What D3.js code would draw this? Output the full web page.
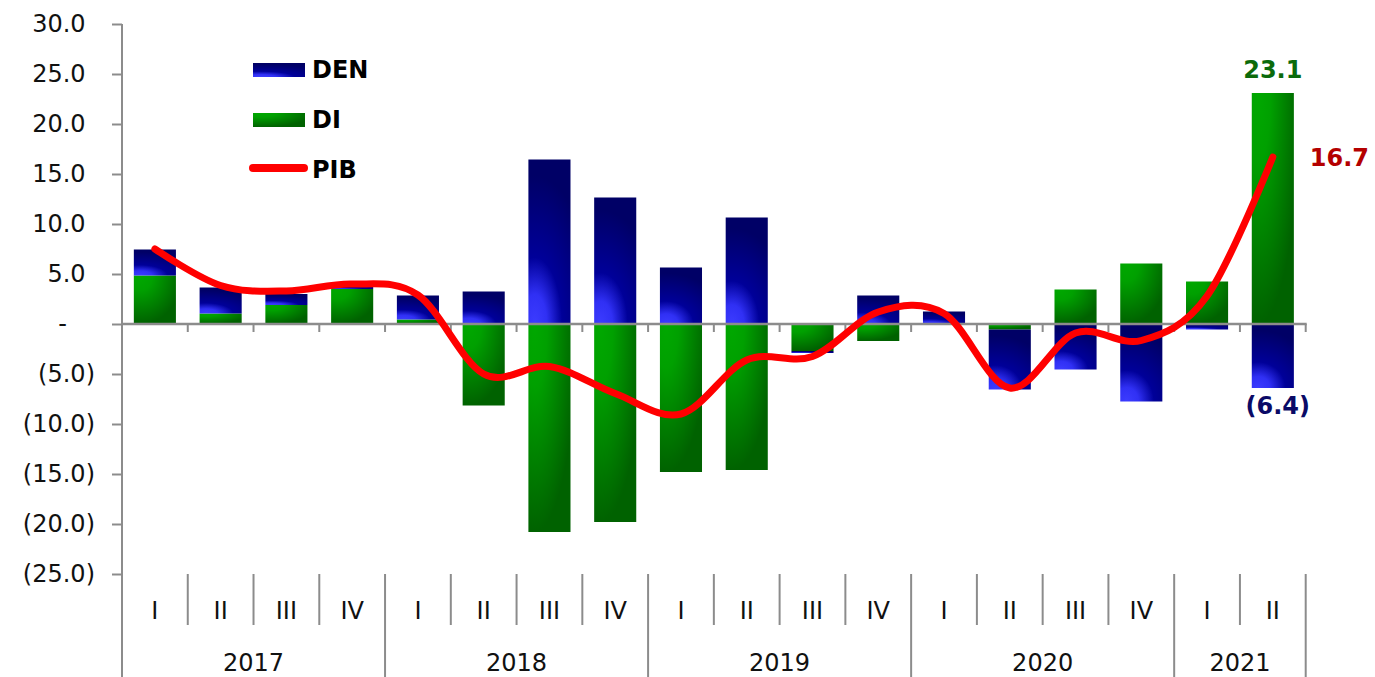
<!DOCTYPE html>
<html>
<head>
<meta charset="utf-8">
<script src="https://cdn.jsdelivr.net/npm/d3@7"></script>
<style>
  body { margin: 0; background: #fff; }
  svg { display: block; font-family: "DejaVu Sans", Verdana, sans-serif; }
</style>
</head>
<body>
<svg id="chart" width="1375" height="677"></svg>
<script>
// quarters, "year quarter"
var categories = ["2017 I", "2017 II", "2017 III", "2017 IV",
    "2018 I", "2018 II", "2018 III", "2018 IV",
    "2019 I", "2019 II", "2019 III", "2019 IV",
    "2020 I", "2020 II", "2020 III", "2020 IV",
    "2021 I", "2021 II"];
var den = [2.6, 2.6, 1.1, 0.3, 2.4, 3.25, 16.45, 12.65, 5.65, 10.65, -0.2, 2.85, 1.25, -6.0, -4.55, -7.75, -0.55, -6.4];
var di = [4.85, 1.05, 1.9, 3.5, 0.45, -8.15, -20.8, -19.8, -14.8, -14.6, -2.7, -1.7, 0.0, -0.55, 3.45, 6.05, 4.25, 23.1];
var pib = [7.5, 3.85, 3.3, 4.0, 2.9, -5.0, -4.25, -6.95, -9.0, -3.6, -3.25, 1.2, 1.05, -6.4, -0.9, -1.65, 2.8, 16.7];
var yTicks = [-25, -20, -15, -10, -5, 0, 5, 10, 15, 20, 25, 30];
var seriesNames = ["DEN", "DI", "PIB"];

var svg = d3.select("#chart");
var plotLeft = 122, plotRight = 1305.7, plotTop = 24, plotBottom = 574;

var x = d3.scaleBand().domain(categories).range([plotLeft, plotRight])
    .paddingInner(0.36).paddingOuter(0.18);
var y = d3.scaleLinear().domain([-25, 30]).range([plotBottom, plotTop]);
var step = x.step();
function x0(c) { return x(c) - step * 0.18; }  // left edge of the category slot

// gradients
var defs = svg.append("defs");
var gDen = defs.append("radialGradient").attr("id", "gDen")
    .attr("cx", 0.15).attr("cy", 1).attr("r", 0.9).attr("fx", 0.15).attr("fy", 1)
    .attr("gradientTransform", "translate(0.15,1) scale(1.6,1) translate(-0.15,-1)");
gDen.append("stop").attr("offset", 0).attr("stop-color", "#3c3cff");
gDen.append("stop").attr("offset", 0.2).attr("stop-color", "#3030f4");
gDen.append("stop").attr("offset", 0.45).attr("stop-color", "#000099");
gDen.append("stop").attr("offset", 1).attr("stop-color", "#000066");
var gDi = defs.append("radialGradient").attr("id", "gDi")
    .attr("cx", 0.15).attr("cy", 0).attr("r", 1).attr("fx", 0.15).attr("fy", 0);
gDi.append("stop").attr("offset", 0).attr("stop-color", "#00a800");
gDi.append("stop").attr("offset", 0.3).attr("stop-color", "#00a000");
gDi.append("stop").attr("offset", 1).attr("stop-color", "#006200");

// stacked bars (DI next to zero, DEN outside)
var rows = categories.map(function (c, i) { return { cat: c, DI: di[i], DEN: den[i] }; });
var stack = d3.stack().keys(["DI", "DEN"]).offset(d3.stackOffsetDiverging);
var layers = stack(rows);
var fills = { DI: "url(#gDi)", DEN: "url(#gDen)" };

svg.append("g").selectAll("g")
    .data(layers)
    .enter().append("g")
    .attr("fill", function (d) { return fills[d.key]; })
    .selectAll("rect")
    .data(function (d) { return d.filter(function (p) { return p[1] - p[0] !== 0; }); })
    .enter().append("rect")
    .attr("x", function (d) { return x(d.data.cat); })
    .attr("y", function (d) { return y(Math.max(d[0], d[1])); })
    .attr("width", x.bandwidth())
    .attr("height", function (d) { return Math.abs(y(d[0]) - y(d[1])); });

var grey = "#8c8c8c";

// y axis
var fmt = function (v) {
    if (v === 0) return "-";
    if (v < 0) return "(" + d3.format(".1f")(-v) + ")";
    return d3.format(".1f")(v);
};
var yAxis = svg.append("g")
    .attr("transform", "translate(" + plotLeft + ",0)")
    .call(d3.axisLeft(y).tickValues(yTicks).tickSize(10).tickPadding(17).tickFormat(fmt));
yAxis.select(".domain").remove();
yAxis.selectAll(".tick line").attr("stroke", grey).attr("stroke-width", 2);
yAxis.selectAll(".tick text")
    .attr("font-size", "24px")
    .attr("fill", "#111")
    .attr("font-family", "DejaVu Sans, Verdana, sans-serif")
    .attr("dx", function (d) { return d > 0 ? -9.4 : (d === 0 ? -28 : 0); });

svg.append("line")
    .attr("x1", plotLeft).attr("x2", plotLeft).attr("y1", plotTop).attr("y2", 677)
    .attr("stroke", grey).attr("stroke-width", 2);

// zero line with little ticks
svg.append("line")
    .attr("x1", plotLeft).attr("x2", plotRight + 1).attr("y1", y(0)).attr("y2", y(0))
    .attr("stroke", grey).attr("stroke-width", 2.5);
var bounds = d3.range(categories.length + 1).map(function (i) {
    return i < categories.length ? x0(categories[i]) : plotRight;
});
svg.append("g").selectAll("line")
    .data(bounds.slice(1))
    .enter().append("line")
    .attr("x1", function (d) { return d; }).attr("x2", function (d) { return d; })
    .attr("y1", y(0)).attr("y2", y(0) + 8)
    .attr("stroke", grey).attr("stroke-width", 2);

// category axis: quarter labels, years
var yearOf = function (c) { return c.split(" ")[0]; };
var qOf = function (c) { return c.split(" ")[1]; };
var isYearStart = bounds.map(function (b, i) {
    return i === 0 || i === categories.length || yearOf(categories[i]) !== yearOf(categories[i - 1]);
});
svg.append("g").selectAll("line")
    .data(bounds.slice(1))
    .enter().append("line")
    .attr("x1", function (d) { return d; }).attr("x2", function (d) { return d; })
    .attr("y1", plotBottom)
    .attr("y2", function (d, i) { return isYearStart[i + 1] ? 677 : 625; })
    .attr("stroke", grey).attr("stroke-width", 2);

svg.append("g").selectAll("text")
    .data(categories)
    .enter().append("text")
    .attr("x", function (d) { return x(d) + x.bandwidth() / 2; })
    .attr("y", 619)
    .attr("text-anchor", "middle")
    .attr("font-size", "24px")
    .attr("fill", "#111")
    .text(qOf);

var years = Array.from(d3.group(categories, yearOf), function (g) { return { year: g[0], cats: g[1] }; });
svg.append("g").selectAll("text")
    .data(years)
    .enter().append("text")
    .attr("x", function (d) {
        var a = x0(d.cats[0]), b = x0(d.cats[d.cats.length - 1]) + step;
        return (a + b) / 2;
    })
    .attr("y", 671)
    .attr("text-anchor", "middle")
    .attr("font-size", "24px")
    .attr("fill", "#111")
    .text(function (d) { return d.year; });

// PIB line
var line = d3.line()
    .x(function (d, i) { return x(categories[i]) + x.bandwidth() / 2; })
    .y(function (d) { return y(d); })
    .curve(d3.curveCardinal.tension(0));
svg.append("path")
    .datum(pib)
    .attr("d", line)
    .attr("fill", "none")
    .attr("stroke", "#ff0000")
    .attr("stroke-width", 7)
    .attr("stroke-linecap", "round")
    .attr("stroke-linejoin", "round");

// value labels for the last quarter
var last = categories.length - 1;
var lastX = x(categories[last]) + x.bandwidth() / 2;
svg.append("text")
    .attr("x", lastX).attr("y", y(di[last]) - 15)
    .attr("text-anchor", "middle").attr("font-size", "24px").attr("font-weight", "bold")
    .attr("fill", "#0b6a0b").text(d3.format(".1f")(di[last]));
svg.append("text")
    .attr("x", lastX + 37).attr("y", y(pib[last]) + 9)
    .attr("text-anchor", "start").attr("font-size", "24px").attr("font-weight", "bold")
    .attr("fill", "#b40000").text(d3.format(".1f")(pib[last]));
svg.append("text")
    .attr("x", lastX + 5).attr("y", y(den[last] + Math.min(di[last], 0)) + 26)
    .attr("text-anchor", "middle").attr("font-size", "24px").attr("font-weight", "bold")
    .attr("fill", "#0a0a66").text(fmt(den[last]));

// legend
var legend = svg.append("g").attr("transform", "translate(253,0)");
var legY = [70, 120, 170];
seriesNames.forEach(function (name, i) {
    if (name === "PIB") {
        legend.append("line")
            .attr("x1", 0).attr("x2", 51).attr("y1", legY[i] - 2).attr("y2", legY[i] - 2)
            .attr("stroke", "#ff0000").attr("stroke-width", 8).attr("stroke-linecap", "round");
    } else {
        legend.append("rect")
            .attr("x", 0).attr("y", legY[i] - 7).attr("width", 52).attr("height", 14)
            .attr("fill", name === "DEN" ? "url(#gDen)" : "url(#gDi)");
    }
    legend.append("text")
        .attr("x", 59).attr("y", legY[i] + 8)
        .attr("font-size", "24px").attr("font-weight", "bold").attr("fill", "#000")
        .text(name);
});
</script>
</body>
</html>
